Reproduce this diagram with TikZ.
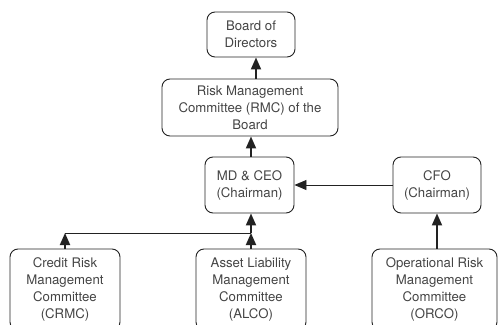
\documentclass[tikz,border=0pt]{standalone}
\usepackage{fontspec}
\setmainfont{TeX Gyre Heros}
\usetikzlibrary{arrows.meta}
\definecolor{txt}{HTML}{444444}
\definecolor{ln}{HTML}{222222}
\begin{document}
\begin{tikzpicture}[x=1pt,y=-1pt,
  box/.style={draw=ln, line width=0.9pt, rounded corners=8pt, align=center, inner sep=0pt,
    text=txt, font=\fontsize{13.2}{17}\selectfont},
  arr/.style={draw=ln, line width=1.8pt, -{Triangle[length=12pt,width=10pt]}},
  thin/.style={draw=ln, line width=0.9pt},
  tharr/.style={draw=ln, line width=0.9pt, -{Triangle[length=12pt,width=10pt]}}]
\useasboundingbox (0,0) rectangle (498,324);
\clip (0,0) rectangle (498,324);
\node[box, minimum width=88pt, minimum height=45pt] (bod) at (251,34.5) {Board of\\Directors};
\node[box, minimum width=176pt, minimum height=57pt] (rmc) at (250,107.5) {Risk Management\\Committee (RMC) of the\\Board};
\node[box, minimum width=89pt, minimum height=56pt] (md) at (249.5,185) {MD \& CEO\\(Chairman)};
\node[box, minimum width=88pt, minimum height=56pt] (cfo) at (437,185) {CFO\\(Chairman)};
\node[box, minimum width=110pt, minimum height=81pt] (crmc) at (65,289.5) {Credit Risk\\Management\\Committee\\(CRMC)};
\node[box, minimum width=110pt, minimum height=81pt] (alco) at (251,289.5) {Asset Liability\\Management\\Committee\\(ALCO)};
\node[box, minimum width=125pt, minimum height=81pt] (orco) at (434.5,289.5) {Operational Risk\\Management\\Committee\\(ORCO)};
\coordinate (j) at (251,233);
\coordinate (jl) at (65,233);
\coordinate (b) at (256,0);
\draw[arr] (rmc.north -| b) -- (bod.south -| b);
\draw[arr] (md.north -| j) -- (rmc.south -| j);
\draw[tharr] (cfo.west) -- (md.east |- cfo.west);
\draw[arr] (alco.north) -- (j);
\draw[arr] (j) -- (md.south -| j);
\draw[thin] (jl) -- (j);
\draw[arr] (crmc.north) -- (jl);
\draw[arr] (orco.north -| cfo.south) -- (cfo.south);
\end{tikzpicture}
\end{document}
